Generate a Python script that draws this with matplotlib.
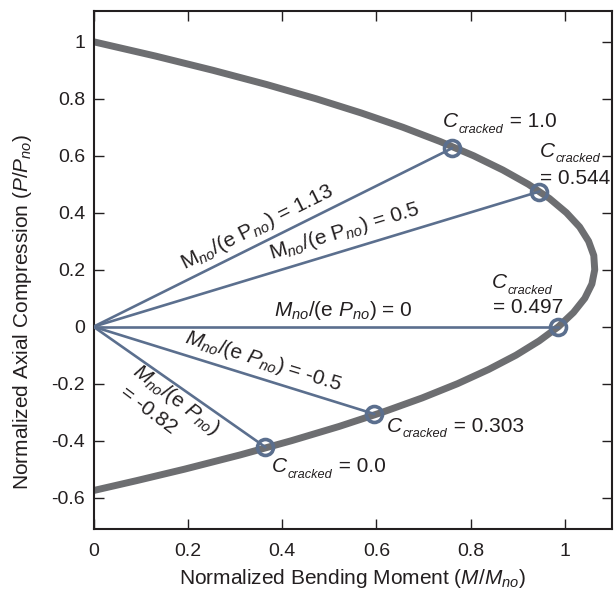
import numpy as np
import matplotlib
matplotlib.use("Agg")
import matplotlib.pyplot as plt
import matplotlib.transforms as mtransforms

plt.rcParams['font.family'] = ['Liberation Sans', 'DejaVu Sans']
plt.rcParams['mathtext.fontset'] = 'custom'
plt.rcParams['mathtext.rm'] = 'Liberation Sans'
plt.rcParams['mathtext.it'] = 'Liberation Sans:italic'
plt.rcParams['mathtext.sf'] = 'Liberation Sans'

# Interaction curve
curve_P = [1.0, 0.95, 0.9, 0.85, 0.8, 0.75, 0.7, 0.65, 0.6, 0.55, 0.5, 0.45, 0.4, 0.35,
           0.3, 0.25, 0.2, 0.15, 0.1, 0.05, 0.0, -0.05, -0.1, -0.15, -0.2, -0.25, -0.3,
           -0.35, -0.4, -0.45, -0.5, -0.54, -0.575]
curve_M = [0.0, 0.131, 0.253, 0.367, 0.472, 0.568, 0.656, 0.735, 0.806, 0.868, 0.922,
           0.967, 1.003, 1.031, 1.050, 1.061, 1.063, 1.057, 1.042, 1.018, 0.986, 0.945,
           0.896, 0.838, 0.772, 0.697, 0.613, 0.521, 0.420, 0.311, 0.193, 0.092, 0.0]

# Load-path end points (circles)
pt_M = [0.760, 0.945, 0.986, 0.595, 0.364]
pt_P = [0.626, 0.474, 0.0, -0.306, -0.422]
ratio_labels = ['1.13', '0.5', '0', '-0.5', '-0.82']
c_cracked = ['1.0', '0.544', '0.497', '0.303', '0.0']

x_ticks = [0, 0.2, 0.4, 0.6, 0.8, 1]
y_ticks = [-0.6, -0.4, -0.2, 0, 0.2, 0.4, 0.6, 0.8, 1]

W, H = 615, 592
fig = plt.figure(figsize=(W / 100, H / 100), dpi=100)
L, R, T, B = 93.5, 611.7, 10.7, 529.3
ax = fig.add_axes([L / W, 1 - B / H, (R - L) / W, (B - T) / H])
ax.set_xlim(0, 1.099)
ax.set_ylim(-0.711, 1.109)

text_col = '#231f20'
curve_col = '#6d6e71'
line_col = '#5b6f8e'

ax.plot(curve_M, curve_P, color=curve_col, lw=5.0, solid_capstyle='butt',
        solid_joinstyle='round', zorder=2)
for m, p in zip(pt_M, pt_P):
    ax.plot([0, m], [0, p], color=line_col, lw=1.9, zorder=3)
ax.plot(pt_M, pt_P, 'o', ms=11.5, mfc='none', mec=line_col, mew=2.6, zorder=4)

ax.set_xticks(x_ticks)
ax.set_xticklabels(['0', '0.2', '0.4', '0.6', '0.8', '1'])
ax.set_yticks(y_ticks)
ax.set_yticklabels(['-0.6', '-0.4', '-0.2', '0', '0.2', '0.4', '0.6', '0.8', '1'])
ax.tick_params(direction='in', length=7, width=1.0, top=True, right=True,
               labelsize=14, colors=text_col)
ax.tick_params(axis='x', pad=10)
ax.tick_params(axis='y', pad=6)
for s in ax.spines.values():
    s.set_linewidth(1.5)
    s.set_color('#231f20')

ax.set_xlabel(r'Normalized Bending Moment ($M$/$M_{no}$)', fontsize=15, color=text_col)
ax.set_ylabel(r'Normalized Axial Compression ($P$/$P_{no}$)', fontsize=15, color=text_col)
ax.xaxis.set_label_coords(0.5, -0.072)
ax.yaxis.set_label_coords(-0.115, 0.42)

fig.canvas.draw()
renderer = fig.canvas.get_renderer()

def angle(m, p):
    x0, y0 = ax.transData.transform((0, 0))
    x1, y1 = ax.transData.transform((m, p))
    return np.degrees(np.arctan2(y1 - y0, x1 - x0))

fs = 15
# ratio labels along lines
ax.text(0.347, 0.35, r'$\mathrm{M}_{no}$/(e $\mathrm{P}_{no}$) = ' + ratio_labels[0],
        rotation=angle(pt_M[0], pt_P[0]), ha='center', va='center', fontsize=fs,
        color=text_col, rotation_mode='anchor')
ax.text(0.533, 0.336, r'$\mathrm{M}_{no}$/(e $\mathrm{P}_{no}$) = ' + ratio_labels[1],
        rotation=angle(pt_M[1], pt_P[1]), ha='center', va='center', fontsize=fs,
        color=text_col, rotation_mode='anchor')
ax.text(0.53, 0.058, r'$M_{no}$/(e $P_{no}$) = ' + ratio_labels[2],
        rotation=0, ha='center', va='center', fontsize=fs, color=text_col)
ax.text(0.36, -0.12, r'$M_{no}$/(e $P_{no}$) = ' + ratio_labels[3],
        rotation=angle(pt_M[3], pt_P[3]), ha='center', va='center', fontsize=fs,
        color=text_col, rotation_mode='anchor')
a4 = angle(pt_M[4], pt_P[4]) - 2
ax.text(0.175, -0.257, r'$M_{no}$/(e $P_{no}$)',
        rotation=a4, ha='center', va='center', fontsize=fs, color=text_col, rotation_mode='anchor')
ax.text(0.116, -0.292, '= ' + ratio_labels[4],
        rotation=a4, ha='center', va='center', fontsize=fs, color=text_col, rotation_mode='anchor')

# C_cracked labels: big italic C, small italic subscript, then the value
def clabel(x, y, rest):
    t1 = ax.text(x, y, 'C', fontstyle='italic', fontsize=fs, ha='left', va='baseline',
                 color=text_col)
    w1 = t1.get_window_extent(renderer).width
    tr2 = mtransforms.offset_copy(ax.transData, fig=fig, x=w1 + 0.5, y=-5.5, units='dots')
    t2 = ax.text(x, y, 'cracked', fontstyle='italic', fontsize=9.2, ha='left',
                 va='baseline', color=text_col, transform=tr2)
    w2 = t2.get_window_extent(renderer).width
    if rest:
        tr3 = mtransforms.offset_copy(ax.transData, fig=fig, x=w1 + w2 + 1, y=0, units='dots')
        ax.text(x, y, ' = ' + rest, fontsize=fs, ha='left', va='baseline',
                color=text_col, transform=tr3)

kw = dict(ha='left', va='baseline', fontsize=fs, color=text_col)
clabel(0.741, 0.70, c_cracked[0])
clabel(0.947, 0.596, '')
ax.text(0.947, 0.50, '= ' + c_cracked[1], **kw)
clabel(0.845, 0.135, '')
ax.text(0.847, 0.048, '= ' + c_cracked[2], **kw)
clabel(0.622, -0.368, c_cracked[3])
clabel(0.379, -0.51, c_cracked[4])

fig.savefig('out.png', dpi=100)
